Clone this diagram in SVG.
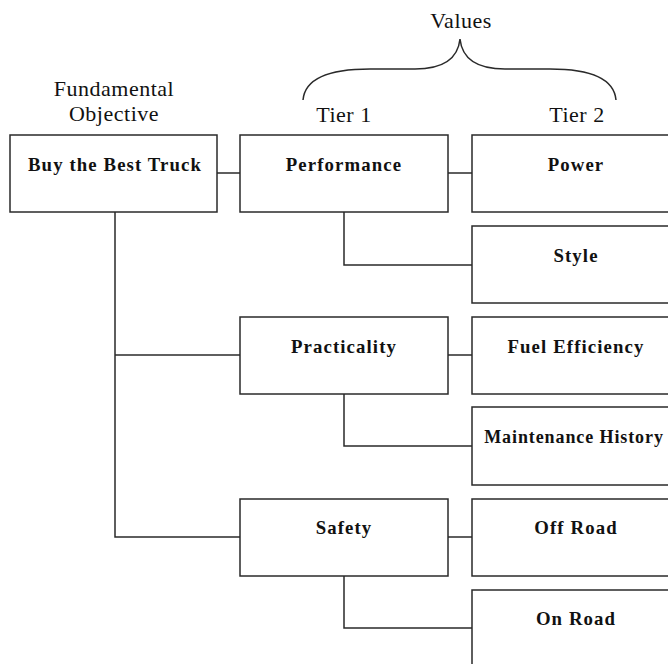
<svg xmlns="http://www.w3.org/2000/svg" width="668" height="664" viewBox="0 0 668 664">
<style>
.box{fill:#fff;stroke:#2a2a2a;stroke-width:1.5}
.lbl{font-family:"Liberation Serif","Times New Roman",serif;font-weight:bold;font-size:18.8px;letter-spacing:1.1px;fill:#111;text-anchor:middle}
.hdr{font-family:"Liberation Serif","Times New Roman",serif;font-size:22px;letter-spacing:0.5px;fill:#111;text-anchor:middle}
.ln{fill:none;stroke:#2a2a2a;stroke-width:1.5}
</style>
<rect width="668" height="664" fill="#fff"/>
<g id="headers">
<text class="hdr" x="461" y="28">Values</text>
<text class="hdr" x="114" y="96">Fundamental</text>
<text class="hdr" x="114" y="121">Objective</text>
<text class="hdr" x="344" y="122">Tier 1</text>
<text class="hdr" x="577" y="122">Tier 2</text>
<path class="ln" d="M303,100 C305,78 330,69 370,69 L415,69 C445,69 458,58 460,39 C462,58 475,69 505,69 L550,69 C590,69 614,78 616,100"/>
</g>
<g id="connectors">
<path class="ln" d="M217,173 H240"/>
<path class="ln" d="M448,173 H472"/>
<path class="ln" d="M344,212 V265 H472"/>
<path class="ln" d="M115,212 V537 H240"/>
<path class="ln" d="M115,355 H240"/>
<path class="ln" d="M448,355 H472"/>
<path class="ln" d="M344,394 V446 H472"/>
<path class="ln" d="M448,537 H472"/>
<path class="ln" d="M344,576 V628 H472"/>
</g>
<g id="buy"><rect class="box" x="10" y="135" width="207" height="77"/><text class="lbl" x="115" y="171">Buy the Best Truck</text></g>
<g id="performance"><rect class="box" x="240" y="135" width="208" height="77"/><text class="lbl" x="344" y="171">Performance</text></g>
<g id="power"><rect class="box" x="472" y="135" width="210" height="77"/><text class="lbl" x="576" y="171">Power</text></g>
<g id="style"><rect class="box" x="472" y="226" width="210" height="77"/><text class="lbl" x="576" y="262">Style</text></g>
<g id="practicality"><rect class="box" x="240" y="317" width="208" height="77"/><text class="lbl" x="344" y="352.5">Practicality</text></g>
<g id="fuel"><rect class="box" x="472" y="317" width="210" height="77"/><text class="lbl" x="576" y="352.5">Fuel Efficiency</text></g>
<g id="maintenance"><rect class="box" x="472" y="407" width="210" height="78"/><text class="lbl" x="574" y="443" style="font-size:18px;letter-spacing:0.9px">Maintenance History</text></g>
<g id="safety"><rect class="box" x="240" y="499" width="208" height="77"/><text class="lbl" x="344" y="534">Safety</text></g>
<g id="offroad"><rect class="box" x="472" y="499" width="210" height="77"/><text class="lbl" x="576" y="534">Off Road</text></g>
<g id="onroad"><rect class="box" x="472" y="590" width="210" height="80"/><text class="lbl" x="576" y="625">On Road</text></g>
</svg>
